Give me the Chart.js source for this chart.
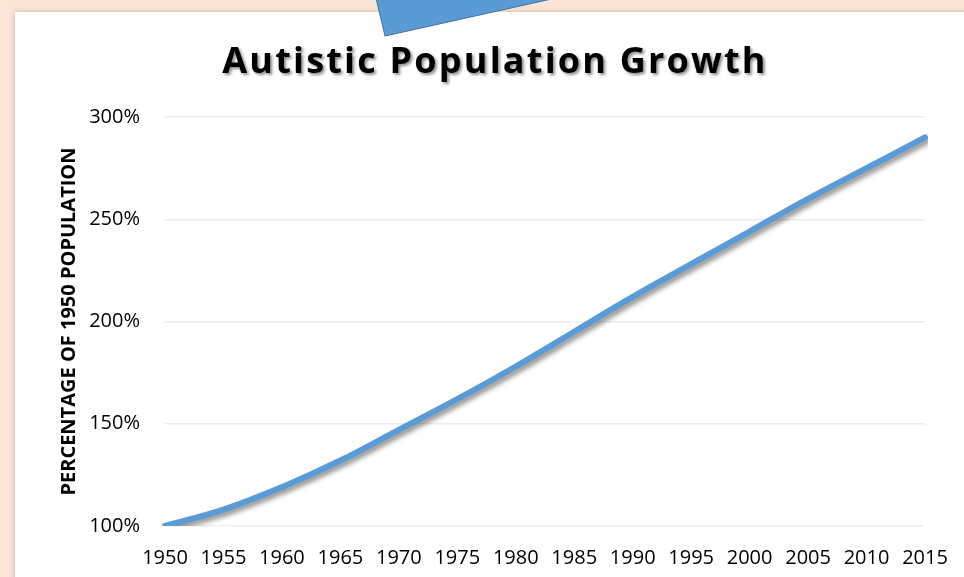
<!DOCTYPE html>
<html>
<head>
<meta charset="utf-8">
<title>Autistic Population Growth</title>
<script src="https://cdn.jsdelivr.net/npm/chart.js@4.4.0/dist/chart.umd.min.js"></script>
<style>
    html, body { margin: 0; padding: 0; background: #FAE5D7; overflow: hidden; }
    #wrap { position: relative; width: 964px; height: 577px; }
</style>
</head>
<body>
<div id="wrap"><canvas id="chart"></canvas></div>
<script>
var years = ['1950', '1955', '1960', '1965', '1970', '1975', '1980', '1985', '1990', '1995', '2000', '2005', '2010', '2015'];
var growth = [100, 108, 119, 132, 147, 162, 178, 195, 212, 228, 244, 260, 275, 290];
var yTicks = [100, 150, 200, 250, 300];
var chartTitle = 'Autistic Population Growth';
var yTitle = 'PERCENTAGE OF 1950 POPULATION';

// peach page + white panel behind everything
var panelBg = {
    id: 'panelBg',
    beforeDraw: function(chart) {
        var ctx = chart.ctx;
        ctx.save();
        ctx.fillStyle = '#FAE5D7';
        ctx.fillRect(0, 0, chart.width, chart.height);
        ctx.shadowColor = 'rgba(120, 90, 70, 0.35)';
        ctx.shadowBlur = 5;
        ctx.fillStyle = '#ffffff';
        ctx.fillRect(15, 12, chart.width, chart.height);
        ctx.restore();
    }
};

// soft drop shadow under the line
var lineShadow = {
    id: 'lineShadow',
    beforeDatasetDraw: function(chart) {
        var ctx = chart.ctx;
        ctx.save();
        ctx.shadowColor = 'rgba(0, 0, 0, 0.45)';
        ctx.shadowBlur = 5;
        ctx.shadowOffsetX = 3;
        ctx.shadowOffsetY = 3;
    },
    afterDatasetDraw: function(chart) {
        chart.ctx.restore();
    }
};

// spaced title with shadow, and the blue callout shape at the top
var titleAndShape = {
    id: 'titleAndShape',
    afterDraw: function(chart) {
        var ctx = chart.ctx;
        ctx.save();
        ctx.font = 'bold 36px "Open Sans"';
        ctx.letterSpacing = '2.2px';
        ctx.textAlign = 'center';
        ctx.textBaseline = 'alphabetic';
        ctx.fillStyle = '#000000';
        ctx.shadowColor = 'rgba(0, 0, 0, 0.45)';
        ctx.shadowBlur = 3;
        ctx.shadowOffsetX = 2;
        ctx.shadowOffsetY = 2;
        ctx.fillText(chartTitle, 495, 73);
        ctx.restore();

        ctx.save();
        ctx.beginPath();
        ctx.moveTo(376, -2);
        ctx.lineTo(385, 36);
        ctx.lineTo(556, -2);
        ctx.closePath();
        ctx.fillStyle = '#5B9BD5';
        ctx.fill();
        ctx.strokeStyle = '#41719C';
        ctx.lineWidth = 1;
        ctx.stroke();
        ctx.restore();
    }
};

var ctx = document.getElementById('chart').getContext('2d');
var chart = new Chart(ctx, {
    type: 'line',
    data: {
        labels: years,
        datasets: [{
            label: 'Autistic population',
            data: growth,
            borderColor: '#5B9BD5',
            borderWidth: 6,
            borderCapStyle: 'round',
            borderJoinStyle: 'round',
            tension: 0.4,
            pointRadius: 0,
            fill: false
        }]
    },
    options: {
        responsive: true,
        maintainAspectRatio: false,
        animation: false,
        layout: {
            padding: { top: 117, right: 39, bottom: 0, left: 57 }
        },
        plugins: {
            legend: { display: false },
            title: { display: false },
            tooltip: { enabled: false }
        },
        scales: {
            x: {
                grid: { display: false },
                border: { display: false },
                afterFit: function(scale) { scale.height = 51; },
                ticks: {
                    color: '#000000',
                    font: { family: 'Open Sans', size: 20 },
                    padding: 12,
                    maxRotation: 0,
                    autoSkip: false
                }
            },
            y: {
                min: yTicks[0],
                max: yTicks[yTicks.length - 1],
                grid: { color: '#EDEDED', lineWidth: 1.5, drawTicks: false },
                border: { display: false },
                afterFit: function(scale) { scale.width = 108; },
                ticks: {
                    stepSize: yTicks[1] - yTicks[0],
                    color: '#000000',
                    font: { family: 'Open Sans', size: 20 },
                    padding: 25,
                    callback: function(v) { return v + '%'; }
                },
                title: {
                    display: true,
                    text: yTitle,
                    color: '#000000',
                    font: { family: 'Open Sans', size: 20, weight: 'bold' },
                    padding: { top: 0, bottom: 10 }
                }
            }
        }
    },
    plugins: [panelBg, lineShadow, titleAndShape]
});
</script>
</body>
</html>
